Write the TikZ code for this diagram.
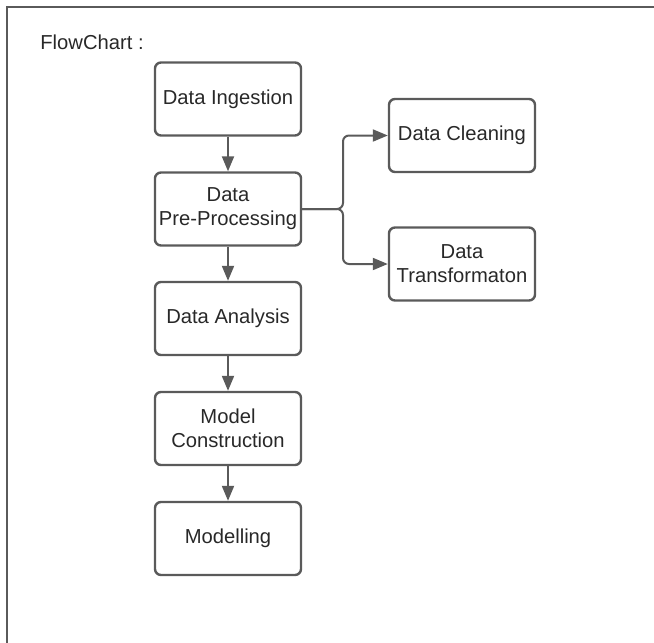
\documentclass[tikz,border=0pt]{standalone}
\usepackage{fontspec}
\setmainfont{Liberation Sans}
\usepackage{tikz}
\usetikzlibrary{arrows.meta,positioning}
\definecolor{linegrey}{RGB}{90,90,90}
\definecolor{textgrey}{RGB}{40,40,40}

\begin{document}
\begin{tikzpicture}[x=0.5pt, y=-0.5pt,
  every node/.style={font=\fontsize{10.1}{12}\selectfont, text=textgrey},
  stagebox/.style={draw=linegrey, line width=1.2pt, rounded corners=3pt, minimum width=73pt, minimum height=36.5pt, inner sep=2pt, align=center},
  flowarrow/.style={draw=linegrey, line width=1pt, -{Triangle[length=7.5pt,width=6pt]}}]
\useasboundingbox (0,0) rectangle (654,643);
\draw[linegrey, line width=1pt] (7,643) -- (7,7) -- (654,7);
\node[anchor=west, inner sep=0pt] (title) at (40,42) {FlowChart :};
\node[stagebox] (ingest)    at (228,99)    {Data Ingestion};
\node[stagebox] (prep)      at (228,209)   {Data\\Pre-Processing};
\node[stagebox] (analysis)  at (228,318.5) {Data Analysis};
\node[stagebox] (model)     at (228,428.5) {Model\\Construction};
\node[stagebox] (modelling) at (228,538.5) {Modelling};
\node[stagebox] (clean)     at (462,135.5) {Data Cleaning};
\node[stagebox] (transform) at (462,264)   {Data\\Transformaton};
\coordinate (split) at (343,209);
\draw[flowarrow] (ingest) -- (prep);
\draw[flowarrow] (prep) -- (analysis);
\draw[flowarrow] (analysis) -- (model);
\draw[flowarrow] (model) -- (modelling);
\draw[flowarrow, rounded corners=3pt] (prep.east) -- (split) |- (clean.west);
\draw[flowarrow, rounded corners=3pt] (prep.east) -- (split) |- (transform.west);
\end{tikzpicture}
\end{document}
